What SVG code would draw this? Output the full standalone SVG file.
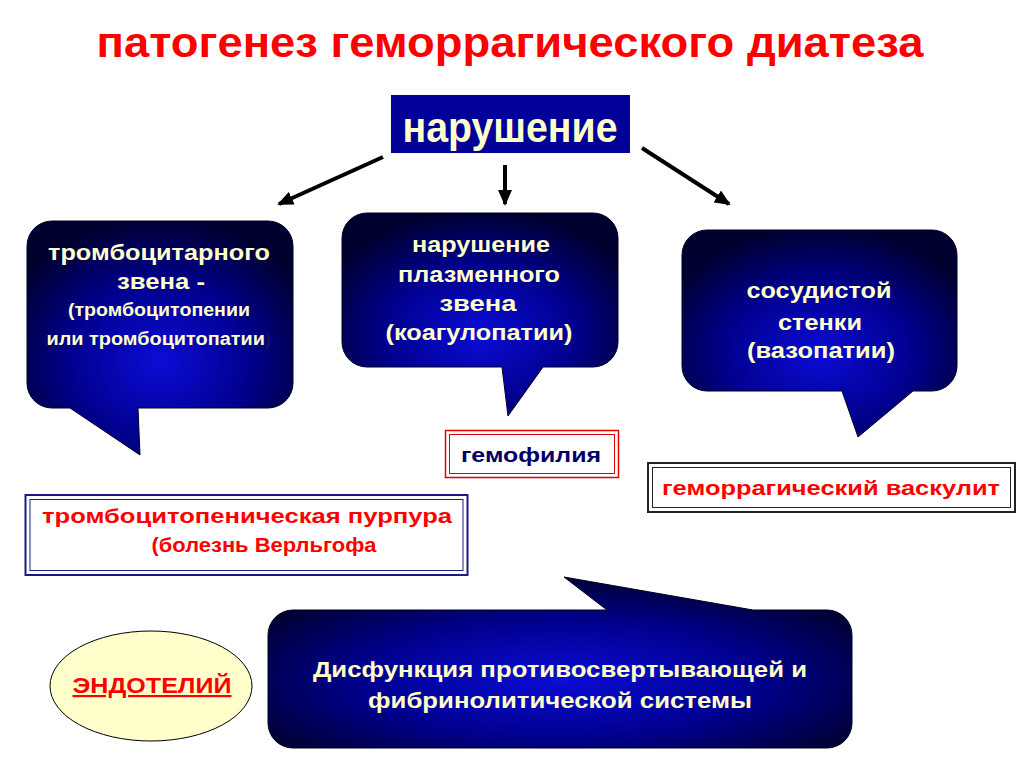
<svg xmlns="http://www.w3.org/2000/svg" width="1024" height="767" viewBox="0 0 1024 767">
<defs>
<radialGradient id="bg" cx="50%" cy="60%" r="62%">
<stop offset="0" stop-color="#0c0cd6"/>
<stop offset="0.55" stop-color="#00008e"/>
<stop offset="1" stop-color="#00002e"/>
</radialGradient>
<marker id="ah" markerWidth="16" markerHeight="14" refX="14" refY="7" orient="auto" markerUnits="userSpaceOnUse">
<path d="M0,0 L16,7 L0,14 Z" fill="#000"/>
</marker>
<style>
text{font-family:"Liberation Sans",Arial,sans-serif;font-weight:bold;text-anchor:middle}
.lt{fill:#FFFFCC}
.red{fill:#FF0000}
.bub{fill:url(#bg);stroke:#000022;stroke-width:1}
.conn line{stroke:#000;stroke-width:4;marker-end:url(#ah)}
</style>
</defs>
<rect width="1024" height="767" fill="#fff"/>

<text id="title" x="510" y="57" font-size="43" class="red" textLength="827" lengthAdjust="spacingAndGlyphs">патогенез геморрагического диатеза</text>

<g id="n-narushenie">
<rect x="391" y="95" width="239" height="58" fill="#000099"/>
<text x="510" y="142" font-size="42" class="lt" textLength="215" lengthAdjust="spacingAndGlyphs">нарушение</text>
</g>

<g class="conn" id="connectors">
<line x1="383" y1="157" x2="279" y2="204"/>
<line x1="505" y1="165" x2="505" y2="204"/>
<line x1="642" y1="148" x2="729" y2="204"/>
</g>

<g id="n-trombocit">
<path class="bub" d="M52,221 H268 A25,25 0 0 1 293,246 V383 A25,25 0 0 1 268,408 H138 L140,455 L70,408 H52 A25,25 0 0 1 27,383 V246 A25,25 0 0 1 52,221 Z"/>
<text x="159" y="260" font-size="22" class="lt" textLength="222" lengthAdjust="spacingAndGlyphs">тромбоцитарного</text>
<text x="161" y="289" font-size="22" class="lt" textLength="88" lengthAdjust="spacingAndGlyphs">звена -</text>
<text x="159" y="316" font-size="18" class="lt" textLength="182" lengthAdjust="spacingAndGlyphs">(тромбоцитопении</text>
<text x="159" y="345" font-size="18" class="lt" textLength="225" lengthAdjust="spacingAndGlyphs">или тромбоцитопатии<tspan fill="#10106a">)</tspan></text>
</g>

<g id="n-plazma">
<path class="bub" d="M367,213 H593 A25,25 0 0 1 618,238 V342 A25,25 0 0 1 593,367 H543 L508,416 L502,367 H367 A25,25 0 0 1 342,342 V238 A25,25 0 0 1 367,213 Z"/>
<text x="481" y="252" font-size="22" class="lt" textLength="138" lengthAdjust="spacingAndGlyphs">нарушение</text>
<text x="479" y="282" font-size="22" class="lt" textLength="162" lengthAdjust="spacingAndGlyphs">плазменного</text>
<text x="478" y="311" font-size="22" class="lt" textLength="77" lengthAdjust="spacingAndGlyphs">звена</text>
<text x="479" y="340" font-size="22" class="lt" textLength="187" lengthAdjust="spacingAndGlyphs">(коагулопатии)</text>
</g>

<g id="n-sosud">
<path class="bub" d="M707,230 H932 A25,25 0 0 1 957,255 V366 A25,25 0 0 1 932,391 H913 L858,437 L842,391 H707 A25,25 0 0 1 682,366 V255 A25,25 0 0 1 707,230 Z"/>
<text x="819" y="298" font-size="22" class="lt" textLength="145" lengthAdjust="spacingAndGlyphs">сосудистой</text>
<text x="820" y="330" font-size="22" class="lt" textLength="84" lengthAdjust="spacingAndGlyphs">стенки</text>
<text x="821" y="358" font-size="22" class="lt" textLength="148" lengthAdjust="spacingAndGlyphs">(вазопатии)</text>
</g>

<g id="n-gemofilia">
<rect x="445.5" y="430.5" width="173" height="47" fill="#fff" stroke="#e00000" stroke-width="1.5"/>
<rect x="449.5" y="434.5" width="165" height="39" fill="none" stroke="#e00000" stroke-width="1"/>
<text x="531" y="462" font-size="20" fill="#000066" textLength="140" lengthAdjust="spacingAndGlyphs">гемофилия</text>
</g>

<g id="n-vaskulit">
<rect x="648" y="463" width="367" height="49" fill="#fff" stroke="#222" stroke-width="2"/>
<rect x="652.5" y="467.5" width="358" height="40" fill="none" stroke="#222" stroke-width="1"/>
<text x="831" y="495" font-size="21" class="red" textLength="338" lengthAdjust="spacingAndGlyphs">геморрагический васкулит</text>
</g>

<g id="n-purpura">
<rect x="25.5" y="495" width="442" height="80" fill="#fff" stroke="#1a1a80" stroke-width="2"/>
<rect x="30" y="499.5" width="433" height="71" fill="none" stroke="#1a1a80" stroke-width="1"/>
<text x="247" y="523" font-size="21" class="red" textLength="410" lengthAdjust="spacingAndGlyphs">тромбоцитопеническая пурпура</text>
<text x="264" y="552" font-size="21" class="red" textLength="225" lengthAdjust="spacingAndGlyphs">(болезнь Верльгофа</text>
</g>

<g id="n-disfunkcia">
<path class="bub" d="M293,610 H607 L564,577 L753,610 H827 A25,25 0 0 1 852,635 V723 A25,25 0 0 1 827,748 H293 A25,25 0 0 1 268,723 V635 A25,25 0 0 1 293,610 Z"/>
<text x="560" y="677" font-size="22" class="lt" textLength="494" lengthAdjust="spacingAndGlyphs">Дисфункция противосвертывающей и</text>
<text x="560" y="708" font-size="22" class="lt" textLength="384" lengthAdjust="spacingAndGlyphs">фибринолитической системы</text>
</g>

<g id="n-endotelij">
<ellipse cx="151" cy="686" rx="101" ry="55" fill="#FFFFCC" stroke="#000" stroke-width="1"/>
<text x="152" y="693" font-size="22" class="red" text-decoration="underline" textLength="159" lengthAdjust="spacingAndGlyphs">ЭНДОТЕЛИЙ</text>
</g>
</svg>
